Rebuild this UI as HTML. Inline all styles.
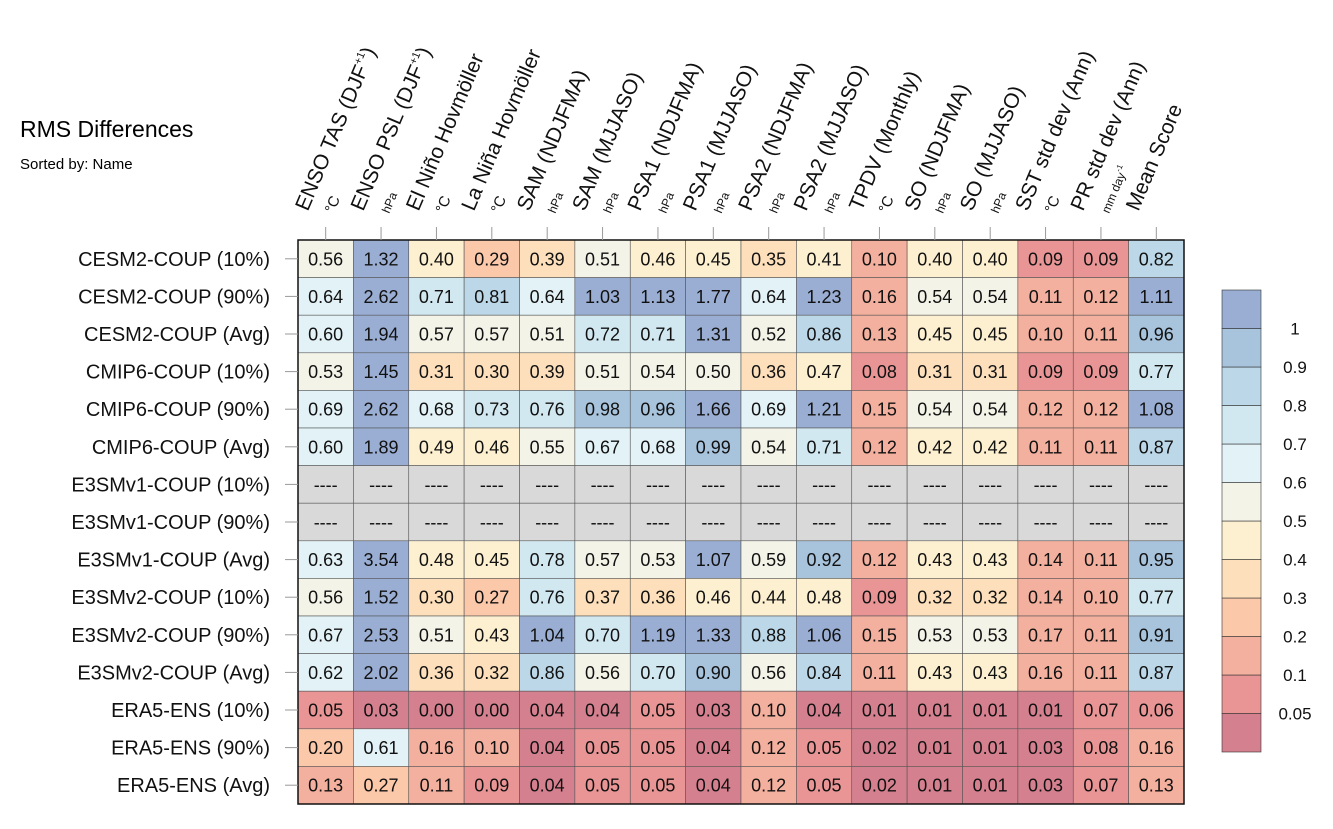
<!DOCTYPE html>
<html><head><meta charset="utf-8">
<style>
body{margin:0;background:#fff;font-family:"Liberation Sans",Arial,sans-serif;}
svg text{font-family:"Liberation Sans",Arial,sans-serif;}
</style></head>
<body>
<svg id="chart" width="1333" height="824" viewBox="0 0 1333 824">
<text x="20" y="137" font-size="23">RMS Differences</text>
<text x="20" y="169" font-size="15">Sorted by: Name</text>
<g id="cells"></g><g id="hdr"></g><g id="rows"></g><g id="cbar"></g>
</svg>
<script>
const columns=["ENSO TAS (DJF+1)","ENSO PSL (DJF+1)","El Niño Hovmöller","La Niña Hovmöller","SAM (NDJFMA)","SAM (MJJASO)","PSA1 (NDJFMA)","PSA1 (MJJASO)","PSA2 (NDJFMA)","PSA2 (MJJASO)","TPDV (Monthly)","SO (NDJFMA)","SO (MJJASO)","SST std dev (Ann)","PR std dev (Ann)","Mean Score"];
const units=["°C","hPa","°C","°C","hPa","hPa","hPa","hPa","hPa","hPa","°C","hPa","hPa","°C","mm day-1",""];
const rowLabels=["CESM2-COUP (10%)","CESM2-COUP (90%)","CESM2-COUP (Avg)","CMIP6-COUP (10%)","CMIP6-COUP (90%)","CMIP6-COUP (Avg)","E3SMv1-COUP (10%)","E3SMv1-COUP (90%)","E3SMv1-COUP (Avg)","E3SMv2-COUP (10%)","E3SMv2-COUP (90%)","E3SMv2-COUP (Avg)","ERA5-ENS (10%)","ERA5-ENS (90%)","ERA5-ENS (Avg)"];
const N=null;
const values=[
[0.56,1.32,0.40,0.29,0.39,0.51,0.46,0.45,0.35,0.41,0.10,0.40,0.40,0.09,0.09,0.82],
[0.64,2.62,0.71,0.81,0.64,1.03,1.13,1.77,0.64,1.23,0.16,0.54,0.54,0.11,0.12,1.11],
[0.60,1.94,0.57,0.57,0.51,0.72,0.71,1.31,0.52,0.86,0.13,0.45,0.45,0.10,0.11,0.96],
[0.53,1.45,0.31,0.30,0.39,0.51,0.54,0.50,0.36,0.47,0.08,0.31,0.31,0.09,0.09,0.77],
[0.69,2.62,0.68,0.73,0.76,0.98,0.96,1.66,0.69,1.21,0.15,0.54,0.54,0.12,0.12,1.08],
[0.60,1.89,0.49,0.46,0.55,0.67,0.68,0.99,0.54,0.71,0.12,0.42,0.42,0.11,0.11,0.87],
[N,N,N,N,N,N,N,N,N,N,N,N,N,N,N,N],
[N,N,N,N,N,N,N,N,N,N,N,N,N,N,N,N],
[0.63,3.54,0.48,0.45,0.78,0.57,0.53,1.07,0.59,0.92,0.12,0.43,0.43,0.14,0.11,0.95],
[0.56,1.52,0.30,0.27,0.76,0.37,0.36,0.46,0.44,0.48,0.09,0.32,0.32,0.14,0.10,0.77],
[0.67,2.53,0.51,0.43,1.04,0.70,1.19,1.33,0.88,1.06,0.15,0.53,0.53,0.17,0.11,0.91],
[0.62,2.02,0.36,0.32,0.86,0.56,0.70,0.90,0.56,0.84,0.11,0.43,0.43,0.16,0.11,0.87],
[0.05,0.03,0.00,0.00,0.04,0.04,0.05,0.03,0.10,0.04,0.01,0.01,0.01,0.01,0.07,0.06],
[0.20,0.61,0.16,0.10,0.04,0.05,0.05,0.04,0.12,0.05,0.02,0.01,0.01,0.03,0.08,0.16],
[0.13,0.27,0.11,0.09,0.04,0.05,0.05,0.04,0.12,0.05,0.02,0.01,0.01,0.03,0.07,0.13]
];
const levels=[0.05,0.1,0.2,0.3,0.4,0.5,0.6,0.7,0.8,0.9,1];
const levelLabels=["0.05","0.1","0.2","0.3","0.4","0.5","0.6","0.7","0.8","0.9","1"];
const colors=["#d5808f","#e99595","#f4b09e","#fbc8aa","#fde0bb","#fdf0d0","#f3f3e8","#e3f2f7","#d2e8f1","#bcd8e8","#a8c3dc","#9aaed3"];

const NS="http://www.w3.org/2000/svg";
const X0=298,X1=1184,Y0=240,Y1=804;
const cw=(X1-X0)/columns.length, rh=(Y1-Y0)/rowLabels.length;
const xPos=i=>X0+i*cw, yPos=j=>Y0+j*rh;
function colorOf(v){if(v===null)return "#d9d9d9";let k=0;while(k<levels.length&&v>=levels[k])k++;return colors[k];}
function mk(tag,attrs,parent){const e=document.createElementNS(NS,tag);for(const k in attrs)e.setAttribute(k,attrs[k]);parent.appendChild(e);return e;}
const gc=document.getElementById('cells');
values.forEach((row,j)=>row.forEach((v,i)=>{
  const r=mk('rect',{x:xPos(i),y:yPos(j),width:cw,height:rh,fill:colorOf(v),stroke:"#555","stroke-width":0.6},gc);
  
  
  const t=mk('text',{x:xPos(i)+cw/2,y:yPos(j)+rh/2+6.5,"text-anchor":"middle","font-size":18,fill:"#111"},gc);
  t.textContent=v===null?"----":v.toFixed(2);
  
  
}));
const border=mk('rect',{x:X0,y:Y0,width:X1-X0,height:Y1-Y0,fill:"none",stroke:"#111","stroke-width":1.5},gc);


const gh=document.getElementById('hdr');
columns.forEach((c,i)=>{
  const cx=xPos(i)+cw/2;
  const tk=mk('line',{x1:cx,x2:cx,y1:Y0-13,y2:Y0,stroke:"#999","stroke-width":1},gh);
  
  
  const t=mk('text',{transform:`translate(${cx-18},${212}) rotate(-67)`,"font-size":21,fill:"#111"},gh);
  if(c.indexOf("(DJF+1)")>=0){t.textContent=c.replace("+1)","");const s=mk('tspan',{"font-size":11,dy:-9},t);s.textContent="+1";const s2=mk('tspan',{dy:9},t);s2.textContent=")";}
  else t.textContent=c;
  
  
  if(units[i]){
    const u=mk('text',{transform:`translate(${cx+8},${214}) rotate(-67)`,"font-size":units[i]==="°C"?15:12,fill:"#111"},gh);
    if(units[i]==="mm day-1"){u.textContent="mm day";const s=mk('tspan',{"font-size":8,dy:-6},u);s.textContent="-1";}
    else u.textContent=units[i]==="°C"?"°C":units[i];
    
    
  }
});
const gr=document.getElementById('rows');
rowLabels.forEach((l,j)=>{
  const cy=yPos(j)+rh/2;
  const tk=mk('line',{x1:X0-13,x2:X0,y1:cy,y2:cy,stroke:"#999","stroke-width":1},gr);
  
  
  const t=mk('text',{x:270,y:cy+7,"text-anchor":"end","font-size":20,fill:"#111"},gr);
  t.textContent=l;
  
  
});
const gb=document.getElementById('cbar');
const CBX=1222,CBY=290,CBW=39,CBH=462,bh=CBH/colors.length;
colors.forEach((c,k)=>{
  const r=mk('rect',{x:CBX,y:CBY+CBH-(k+1)*bh,width:CBW,height:bh,fill:c,stroke:"#333","stroke-width":0.6},gb);
  
  
});
levelLabels.forEach((l,k)=>{
  const y=CBY+CBH-(k+1)*bh;
  const t=mk('text',{x:1295,y:y+6,"text-anchor":"middle","font-size":17,fill:"#111"},gb);
  t.textContent=l;
  
  
});
</script>
</body></html>
